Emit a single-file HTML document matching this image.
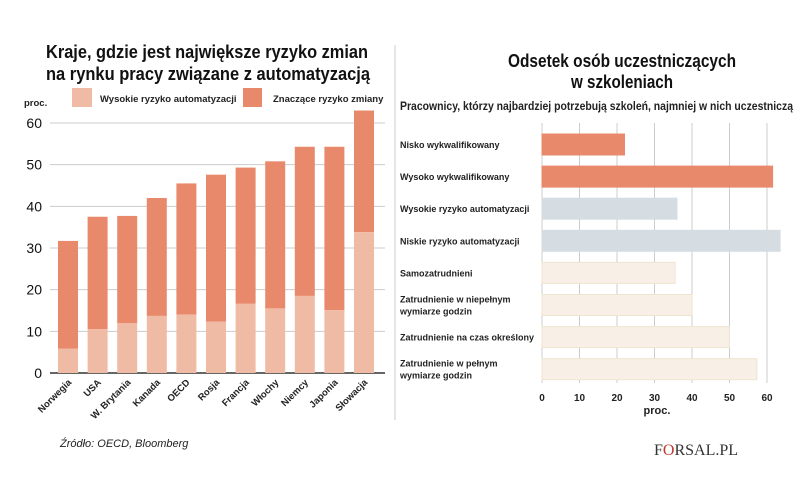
<!DOCTYPE html>
<html><head><meta charset="utf-8"><style>
body{margin:0;background:#fff;}
svg text{font-family:"Liberation Sans",sans-serif;}
.t{font-family:"Liberation Sans",sans-serif;font-size:18px;font-weight:bold;fill:#111;}
</style></head><body>
<svg id="s" width="805" height="478" viewBox="0 0 805 478">
<line x1="395" y1="45" x2="395" y2="420" stroke="#ccc"/>
<text class="t" x="46" y="58" textLength="322" lengthAdjust="spacingAndGlyphs">Kraje, gdzie jest największe ryzyko zmian</text>
<text class="t" x="46" y="80" textLength="324" lengthAdjust="spacingAndGlyphs">na rynku pracy związane z automatyzacją</text>
<text class="t" x="622" y="67" text-anchor="middle" textLength="228" lengthAdjust="spacingAndGlyphs">Odsetek osób uczestniczących</text>
<text class="t" x="622" y="88" text-anchor="middle" textLength="102" lengthAdjust="spacingAndGlyphs">w szkoleniach</text>
<text x="400" y="110" font-size="11.5" font-weight="bold" fill="#222" textLength="393" lengthAdjust="spacingAndGlyphs">Pracownicy, którzy najbardziej potrzebują szkoleń, najmniej w nich uczestniczą</text>
<rect x="72" y="88" width="20" height="19" fill="#efbba5"/>
<text x="100" y="102" font-size="9.5" font-weight="bold" fill="#222">Wysokie ryzyko automatyzacji</text>
<rect x="243" y="88" width="19" height="19" fill="#e8896c"/>
<text x="273" y="102" font-size="9.5" font-weight="bold" fill="#222">Znaczące ryzyko zmiany</text>
<text x="24" y="106" font-size="9.5" font-weight="bold" fill="#222">proc.</text>
<text x="60" y="447" font-size="11" font-style="italic" fill="#222">Źródło: OECD, Bloomberg</text>
<text x="654" y="455" font-size="16" fill="#333" style="font-family:'Liberation Serif',serif">F<tspan fill="#c0392b">O</tspan>RSAL.PL</text>
<g id="left"></g><g id="right"></g>
</svg>
<script>
const countries=["Norwegia","USA","W. Brytania","Kanada","OECD","Rosja","Francja","Włochy","Niemcy","Japonia","Słowacja"];
const highRisk=[5.8,10.5,12,13.7,14,12.3,16.6,15.5,18.5,15.1,33.8];
const totalRisk=[31.7,37.5,37.7,42,45.5,47.6,49.3,50.8,54.3,54.3,63];
const leftTicks=[0,10,20,30,40,50,60];
const categories=["Nisko wykwalifikowany","Wysoko wykwalifikowany","Wysokie ryzyko automatyzacji","Niskie ryzyko automatyzacji","Samozatrudnieni","Zatrudnienie w niepełnym|wymiarze godzin","Zatrudnienie na czas określony","Zatrudnienie w pełnym|wymiarze godzin"];
const participation=[22,61.5,36,63.5,35.5,40,50,57.3];
const groupColor=["#e8896c","#e8896c","#d5dde2","#d5dde2","#f8f0e6","#f8f0e6","#f8f0e6","#f8f0e6"];
const rightTicks=[0,10,20,30,40,50,60];
const NS="http://www.w3.org/2000/svg";
function mk(p,tag,a){const e=document.createElementNS(NS,tag);for(const k in a)e.setAttribute(k,a[k]);p.appendChild(e);return e;}
const L=document.getElementById('left');
const yL=v=>373-v*250/60;
const xL=i=>58+i*29.6;
leftTicks.forEach(t=>{
 const l=mk(L,'line',{x1:50,x2:385,y1:yL(t),y2:yL(t),stroke:t===0?'#333':'#ccc','stroke-width':t===0?1.5:1});
 
 
 const tx=mk(L,'text',{x:42,y:yL(t)+5,'text-anchor':'end','font-size':14,fill:'#111'});tx.textContent=t;
 
 
});
countries.forEach((c,i)=>{
 const b1=mk(L,'rect',{x:xL(i),y:yL(totalRisk[i]),width:20,height:yL(highRisk[i])-yL(totalRisk[i]),fill:'#e8896c'});
 
 
 const b2=mk(L,'rect',{x:xL(i),y:yL(highRisk[i]),width:20,height:yL(0)-yL(highRisk[i]),fill:'#efbba5'});
 
 
 const cx=xL(i)+14,cy=383;
 const tx=mk(L,'text',{x:cx,y:cy,'text-anchor':'end','font-size':9.5,'font-weight':'bold',fill:'#222',transform:`rotate(-45 ${cx} ${cy})`});tx.textContent=c;
 
 
});
const R=document.getElementById('right');
const xR=v=>542+v*225/60;
const yR=i=>134+i*32.1;
rightTicks.forEach(t=>{
 const l=mk(R,'line',{x1:xR(t),x2:xR(t),y1:123,y2:383,stroke:'#ccc'});
 
 
 const tx=mk(R,'text',{x:xR(t),y:401,'text-anchor':'middle','font-size':10,'font-weight':'bold',fill:'#222'});tx.textContent=t;
 
 
});
const u=mk(R,'text',{x:657,y:414,'text-anchor':'middle','font-size':11,'font-weight':'bold',fill:'#222'});u.textContent='proc.';


categories.forEach((c,i)=>{
 const b=mk(R,'rect',{x:xR(0),y:yR(i),width:xR(participation[i])-xR(0),height:21,fill:groupColor[i],stroke:i>=4?'#efe3d0':groupColor[i]});
 
 
 const lines=c.split('|');
 lines.forEach((ln,j)=>{
  const y=yR(i)+14+(lines.length>1?(j*12-6):0);
  const tx=mk(R,'text',{x:400,y:y,'font-size':9,'font-weight':'bold',fill:'#222'});tx.textContent=ln;
  
  
 });
});
</script>
</body></html>
